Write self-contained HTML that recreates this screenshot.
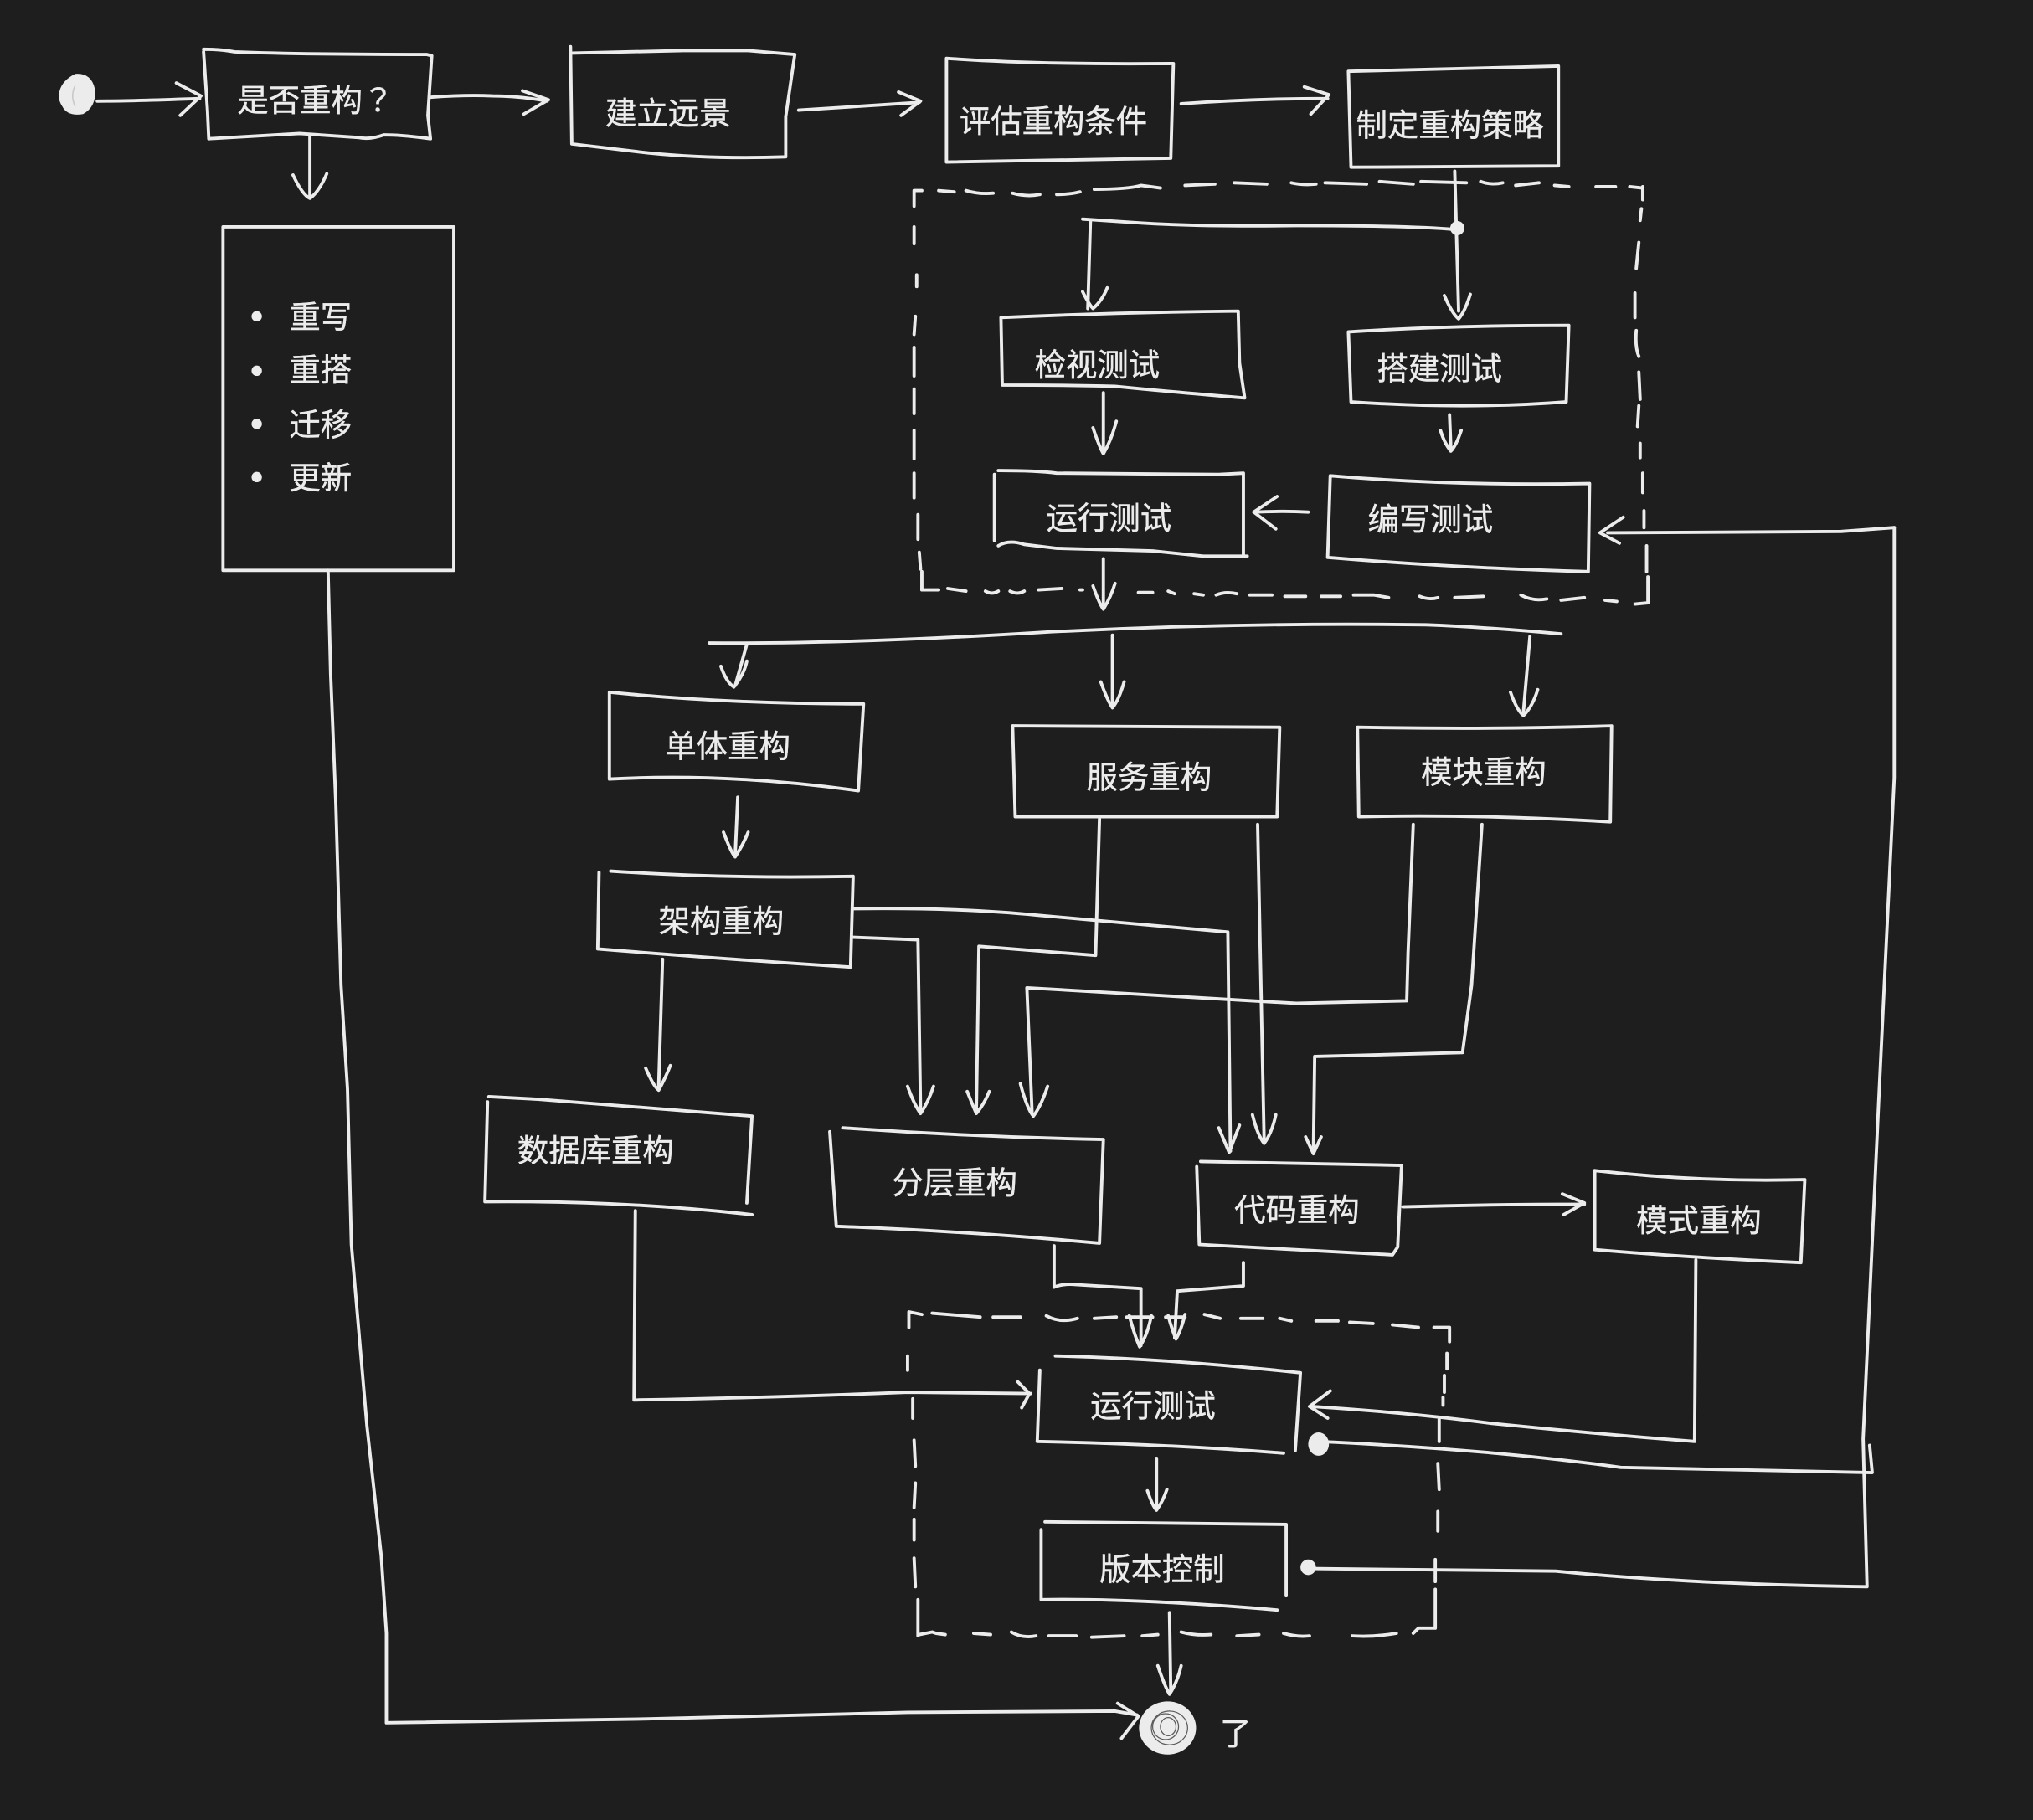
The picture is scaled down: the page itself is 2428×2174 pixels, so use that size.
<!DOCTYPE html>
<html><head><meta charset="utf-8"><style>
html,body{margin:0;padding:0;background:#1e1e1e;width:2428px;height:2174px;overflow:hidden}
svg{display:block}
text{font-family:"Liberation Sans","Noto Sans CJK SC",sans-serif;font-size:24.15px;fill:#ececec;stroke:#ececec;stroke-width:.3}
.s{fill:none;stroke:#ececec;stroke-width:2.5;stroke-linecap:round;stroke-linejoin:round}
.f{fill:#ececec;stroke:none}
</style></head><body>
<svg width="2428" height="2174" viewBox="0 0 1568 1404" xmlns="http://www.w3.org/2000/svg">
<rect width="1568" height="1404" fill="#1e1e1e"/>
<g class="s">
<!-- top boxes -->
<path d="M157 38Q170 38 181 40Q230 42 329 42L333 43L330 89L332 107Q310 104 296 104Q285 108 276 106L231 103L161 107L160 85L157 40"/>
<path d="M332 75Q360 73 380 74Q400 74 422 78M403 70L423 77L404 88"/>
<path d="M75 78Q100 78 154 76M136 64L155 74L139 89"/>
<path d="M440 36L441 111L500 118Q550 123 606 121L606 90L613 42L577 39L527 39Q490 40 441 41"/>
<path d="M616 85Q660 82 709 79M693 71L710 78L695 89"/>
<path d="M730 45Q800 50 905 49L903 122L730 125Z"/>
<path d="M911 80Q970 76 1024 76M1006 67L1025 73L1011 88"/>
<path d="M1040 55L1202 51L1202 128L1042 129Z"/>
<path d="M239 105L239 152M226 135Q233 150 239 153Q246 148 252 134"/>
<rect x="172" y="175" width="178" height="265"/>
<!-- long line from list -->
<path d="M253 440L255 520L259 620L263 760L268 840L271 960L283 1100L294 1200L298 1260L298 1329L500 1326L700 1321L860 1320L877 1323M862 1314L878 1324L865 1341"/>
<!-- dashed top frame -->
<path d="M705 159L705 147L711 147M724 147L736 148M745 147Q755 150 766 149M781 149Q792 152 802 150M815 150Q825 150 833 148M844 146Q870 146 880 143Q888 144 895 145M914 143L937 142M952 141L977 142M996 141Q1005 143 1015 142M1022 141L1054 142M1064 140L1090 142M1096 140L1131 141M1142 140Q1150 143 1159 141M1169 143L1187 141M1199 143L1210 144M1231 144L1246 144M1257 144L1267 145"/>
<path d="M705 175L705 188M707 212L707 221M706 244L705 258M705 268L705 290M705 300L705 319M705 332L705 354M705 365L705 384M708 397L708 416M709 426L710 439M711 441L711 455"/>
<path d="M711 455L724 455M731 454L745 456M760 456Q765 459 770 456M779 456Q785 459 790 456M801 455L819 454M833 455L835 455M878 457L889 457M901 456L906 458M921 458L928 459M938 459Q945 456 954 458M964 459L981 459M991 460L1007 460M1019 460L1034 460M1044 459L1060 459L1071 461M1095 460Q1102 463 1109 461M1122 461L1144 460M1173 459Q1182 464 1193 462M1204 463L1222 461M1238 463L1247 464M1261 466L1271 465L1271 445"/>
<path d="M1267 144L1267 154M1266 161L1265 170M1264 187L1262 207M1261 226L1261 245M1262 255Q1261 268 1264 275M1264 287L1265 308M1264 313L1263 329M1265 342L1265 353M1267 365L1267 380M1268 394L1268 407M1270 421L1270 441"/>
<!-- top subgraph -->
<path d="M1122 132L1125 240M1114 228Q1120 242 1125 246Q1130 240 1134 227"/>
<path d="M1122 177Q1090 174 1000 174Q930 175 880 172L835 169M841 171L839 238M835 225Q840 235 843 238Q850 232 854 222"/>
<path d="M772 245Q860 241 955 240L956 280L960 307Q900 302 860 298Q820 297 773 297L772 245"/>
<path d="M1040 256Q1120 251 1210 251L1208 310Q1130 316 1042 310L1040 256"/>
<path d="M851 303L851 348M843 330Q848 345 851 350Q857 340 861 325"/>
<path d="M1118 320L1119 345M1111 332Q1114 342 1119 348Q1123 344 1127 332"/>
<path d="M770 363Q800 363 815 365L940 366L959 365L959 429M767 366L767 417M770 421Q778 416 790 420L815 423L889 425L928 429L962 429"/>
<path d="M1026 367Q1120 375 1226 373L1225 441Q1120 438 1024 430L1026 367"/>
<path d="M1009 395Q990 394 968 395M985 383L967 395L984 408"/>
<path d="M851 431L851 469M843 452Q848 466 851 470Q857 460 860 450"/>
<path d="M1461 407L1461 600L1449 850L1437 1110L1440 1224Q1300 1222 1200 1212L1009 1210"/>
<path d="M1461 407L1420 410L1240 411M1252 399L1234 411L1249 419"/>
<path d="M1016 1112Q1150 1118 1250 1132L1444 1136L1442 1115"/>
<!-- split bus -->
<path d="M547 496Q650 497 800 488Q950 480 1100 482Q1150 484 1204 489"/>
<path d="M576 497L567 529M556 514Q560 526 566 530Q574 520 576 510"/>
<path d="M858 490L858 544M849 526Q854 540 858 546Q863 540 867 526"/>
<path d="M1180 491L1175 549M1165 534Q1170 548 1175 552Q1182 545 1186 532"/>
<!-- middle boxes -->
<path d="M470 534Q560 543 666 543L662 610Q560 596 470 601L470 534"/>
<path d="M781 560L987 561L985 630L783 630L781 560"/>
<path d="M1047 561Q1150 563 1243 560L1242 634Q1140 628 1048 630L1047 561"/>
<path d="M569 615L567 660M558 642Q564 658 567 661Q573 652 577 642"/>
<path d="M471 672Q560 678 658 676L656 746Q560 740 461 732L462 673"/>
<path d="M511 740L508 838M498 824Q504 838 508 841Q513 832 517 822"/>
<path d="M377 846L415 848L580 861L576 928M376 850L374 927Q480 926 580 937"/>
<path d="M658 701Q740 700 800 706Q870 712 947 719L949 888M940 870L948 889L956 868"/>
<path d="M658 723L708 725L710 858M700 838Q705 852 710 859Q716 850 720 838"/>
<path d="M848 632L845 737L755 730L753 858M746 842Q750 852 753 859Q759 852 763 842"/>
<path d="M1090 636L1086 735L1085 772L1000 774L792 762L796 858M787 836Q792 855 797 861Q803 853 808 838"/>
<path d="M970 636L975 880M966 860Q970 876 975 882Q981 874 984 860"/>
<path d="M1143 636L1135 760L1128 812L1014 815L1013 889M1007 877L1013 890L1019 877"/>
<!-- lower boxes -->
<path d="M650 870Q750 877 851 879L848 959Q750 950 645 946L640 873"/>
<path d="M926 896L1081 899L1078 962L1074 968L925 960L923 900"/>
<path d="M1082 931Q1150 929 1222 929M1205 921L1222 928L1206 937"/>
<path d="M1230 903Q1310 912 1392 910L1389 974Q1300 970 1230 964L1230 903"/>
<path d="M813 961L813 993Q820 990 830 991L880 994L880 1038M871 1015Q875 1030 879 1039Q885 1030 888 1015"/>
<path d="M959 974L959 992L908 996L906 1032M901 1015Q904 1026 907 1033Q911 1026 914 1014"/>
<!-- lower dashed frame -->
<path d="M701 1024L701 1012L711 1014M719 1013L756 1016M766 1016L787 1016M807 1015Q818 1021 831 1017M844 1017L861 1016M869 1016L889 1016M899 1016L914 1016M929 1014L941 1017M957 1017L974 1017M987 1017L996 1019M1015 1019L1032 1019M1041 1020L1059 1021M1074 1022L1094 1024M1106 1024L1118 1024L1118 1035"/>
<path d="M1116 1044L1116 1056M1114 1061L1114 1074M1113 1078L1113 1084M1110 1095L1110 1112M1109 1129L1110 1149M1109 1166L1109 1181M1107 1203L1107 1220M1107 1226L1107 1256L1094 1256L1090 1260"/>
<path d="M709 1261L719 1259L722 1260L729 1261M751 1260L764 1261M780 1259Q788 1264 799 1262M809 1262L830 1262M842 1263L867 1262M881 1262L893 1261M911 1259Q922 1262 934 1261M954 1262L971 1261M990 1260Q1000 1263 1010 1262M1043 1262Q1060 1263 1077 1260"/>
<path d="M700 1046L700 1057M704 1079L704 1094M705 1111L706 1131M706 1144L705 1163M705 1172L705 1188M705 1202L706 1224M708 1234L708 1262"/>
<!-- bottom -->
<path d="M490 934L489 1080Q600 1078 700 1074L795 1075M785 1066L794 1075L788 1086"/>
<path d="M814 1046Q900 1048 1003 1059L999 1119M802 1057L800 1112Q900 1114 990 1121"/>
<path d="M1308 972L1307 1112Q1230 1106 1150 1098Q1090 1090 1012 1085M1026 1073L1010 1085L1024 1094"/>
<path d="M892 1125L892 1163M885 1150Q889 1162 892 1165Q897 1158 900 1149"/>
<path d="M806 1174L992 1176L992 1231M803 1180L803 1234M803 1234Q880 1233 985 1242"/>
<path d="M902 1244L903 1305M893 1285Q898 1300 902 1307Q908 1298 911 1285"/>
</g>
<!-- dots -->
<path class="f" d="M46 70Q48 62 58 57Q70 56 73 68Q75 82 64 88Q52 90 48 82Q44 76 46 70Z"/>
<path d="M58 66Q54 74 58 82" fill="none" stroke="#c8c8c8" stroke-width="1"/>
<circle class="f" cx="1124" cy="176" r="5.5"/>
<ellipse class="f" cx="1017" cy="1114" rx="8" ry="9"/>
<circle class="f" cx="1009" cy="1209" r="6"/>
<ellipse class="f" cx="900.5" cy="1333" rx="22" ry="20.5"/>
<g fill="none" stroke="#5a5a5a" stroke-width=".8">
<ellipse cx="901" cy="1332" rx="6" ry="7"/>
<ellipse cx="899" cy="1332" rx="10" ry="10"/>
<ellipse cx="902" cy="1333" rx="14" ry="13"/>
</g>
<circle class="f" cx="198" cy="244" r="4"/><circle class="f" cx="198" cy="286" r="4"/><circle class="f" cx="198" cy="327" r="4"/><circle class="f" cx="198" cy="368" r="4"/>
<!-- labels -->
<text x="183" y="86">是否重构<tspan style="font-family:'Noto Sans CJK TC',sans-serif">？</tspan></text>
<text x="467" y="96">建立远景</text>
<text x="740" y="102">评估重构条件</text>
<text x="1046" y="105">制定重构策略</text>
<text x="223" y="253">重写</text>
<text x="223" y="294">重搭</text>
<text x="223" y="336">迁移</text>
<text x="223" y="377">更新</text>
<text x="798" y="290">检视测试</text>
<text x="1062" y="293">搭建测试</text>
<text x="807" y="408">运行测试</text>
<text x="1055" y="409">编写测试</text>
<text x="513" y="584">单体重构</text>
<text x="838" y="608">服务重构</text>
<text x="1096" y="604">模块重构</text>
<text x="508" y="719">架构重构</text>
<text x="399" y="896">数据库重构</text>
<text x="688" y="921">分层重构</text>
<text x="952" y="942">代码重构</text>
<text x="1262" y="950">模式重构</text>
<text x="841" y="1093">运行测试</text>
<text x="848" y="1219">版本控制</text>
<text x="941" y="1346">了</text>
</svg>
</body></html>
